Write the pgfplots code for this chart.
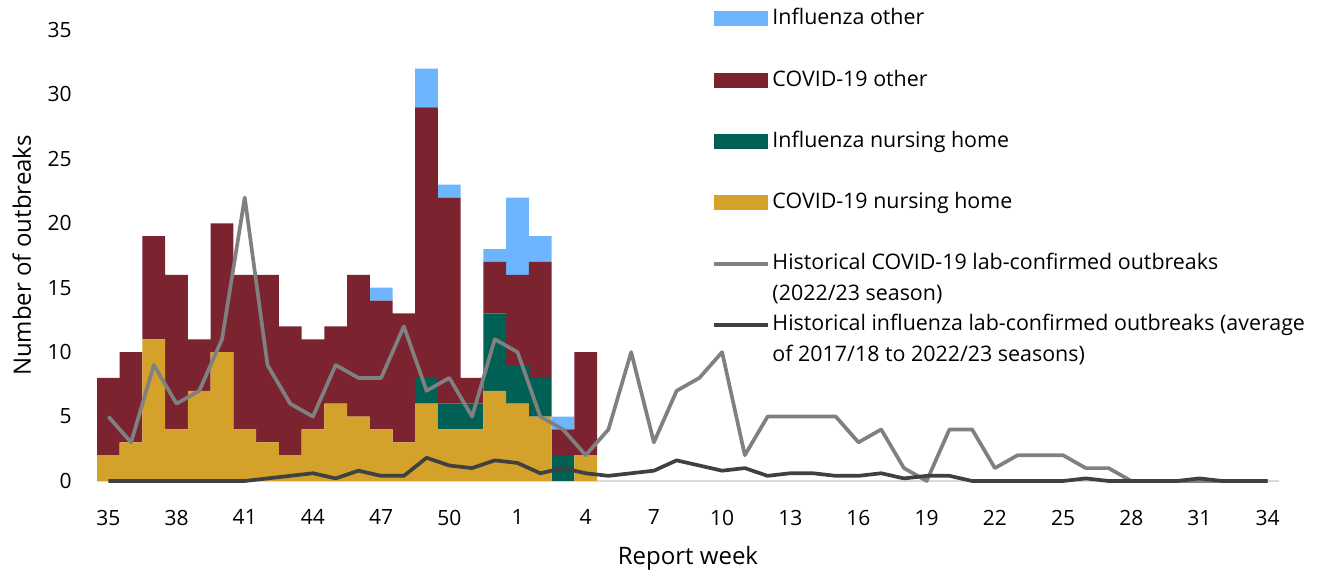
\documentclass[border=0pt]{standalone}
\usepackage{fontspec}
\setmainfont{Open Sans}
\usepackage{pgfplots}
\pgfplotsset{compat=1.18}
\usepackage{pgfplotstable}

\definecolor{cblue}{RGB}{110,181,255}
\definecolor{cmaroon}{RGB}{123,36,48}
\definecolor{cgreen}{RGB}{0,96,84}
\definecolor{cgold}{RGB}{212,162,42}
\definecolor{lgray}{RGB}{128,128,128}
\definecolor{dgray}{RGB}{64,64,64}
\definecolor{axgray}{RGB}{217,217,217}

\pgfplotstableread{
x cnh fnh cot fot
0 2 0 6 0
1 3 0 7 0
2 11 0 8 0
3 4 0 12 0
4 7 0 4 0
5 10 0 10 0
6 4 0 12 0
7 3 0 13 0
8 2 0 10 0
9 4 0 7 0
10 6 0 6 0
11 5 0 11 0
12 4 0 10 1
13 3 0 10 0
14 6 2 21 3
15 4 2 16 1
16 4 2 2 0
17 7 6 4 1
18 6 3 7 6
19 5 3 9 2
20 0 2 2 1
21 2 0 8 0
}\bars

\pgfplotstableread{
x cov flu
0 5 0
1 3 0
2 9 0
3 6 0
4 7 0
5 11 0
6 22 0
7 9 0.2
8 6 0.4
9 5 0.6
10 9 0.2
11 8 0.8
12 8 0.4
13 12 0.4
14 7 1.8
15 8 1.2
16 5 1.0
17 11 1.6
18 10 1.4
19 5 0.6
20 4 1.0
21 2 0.6
22 4 0.4
23 10 0.6
24 3 0.8
25 7 1.6
26 8 1.2
27 10 0.8
28 2 1.0
29 5 0.4
30 5 0.6
31 5 0.6
32 5 0.4
33 3 0.4
34 4 0.6
35 1 0.2
36 0 0.4
37 4 0.4
38 4 0
39 1 0
40 2 0
41 2 0
42 2 0
43 1 0.2
44 1 0
45 0 0
46 0 0
47 0 0
48 0 0.2
49 0 0
50 0 0
51 0 0
}\lines

\pgfplotsset{
  common/.style={
    at={(48.5pt,45pt)}, anchor=south west,
    scale only axis, width=591pt, height=225.5pt,
    xmin=-0.5, xmax=51.5, ymin=0, ymax=35,
  },
  lineleg/.style={legend image code/.code={\draw[##1] (0pt,0pt) -- (27pt,0pt);}},
  barleg/.style={legend image code/.code={\fill[#1] (0pt,-3.5pt) rectangle (26.5pt,3.5pt);}},
}

\begin{document}
\fontsize{10.5pt}{15pt}\selectfont
\begin{tikzpicture}[font=\fontsize{10.5pt}{15pt}\selectfont]
\path[use as bounding box] (0,0) rectangle (660.5pt,285.5pt);

\begin{axis}[
  common,
  ybar stacked, bar width=1,
  axis x line*=bottom, axis y line*=left,
  x axis line style={draw=axgray, line width=1.2pt},
  y axis line style={draw=none},
  major tick length=0pt,
  tick style={draw=none},
  xtick={0,3,...,51},
  xticklabels={35,38,41,44,47,50,1,4,7,10,13,16,19,22,25,28,31,34},
  ytick={0,5,...,35},
  /pgf/number format/assume math mode=true,
  xticklabel style={anchor=north, inner sep=0pt, yshift=-14.25pt},
  yticklabel style={anchor=east, inner sep=0pt, xshift=-12.5pt},
  xlabel={Report week},
  ylabel={Number of outbreaks},
  xlabel style={at={(axis description cs:0.5,-0.1718)}, anchor=center, font=\fontsize{12pt}{14pt}\selectfont},
  ylabel style={at={(axis description cs:-0.0635,0.5)}, anchor=center, font=\fontsize{12pt}{14pt}\selectfont},
]
\addplot[fill=cgold, draw=none] table[x=x, y=cnh] {\bars};
\addplot[fill=cgreen, draw=none] table[x=x, y=fnh] {\bars};
\addplot[fill=cmaroon, draw=none] table[x=x, y=cot] {\bars};
\addplot[fill=cblue, draw=none] table[x=x, y=fot] {\bars};
\end{axis}

\begin{axis}[
  common,
  hide axis, clip=false,
  legend style={at={(axis description cs:0.5203,1.0499)}, anchor=north west,
    draw=none, fill=none, inner sep=0pt, row sep=4.3pt, column sep=1.2pt,
    font=\fontsize{10.7pt}{15pt}\selectfont,
    nodes={inner sep=0pt, text height=8.5pt, text depth=2.5pt}},
  legend cell align=left,
]
\addlegendimage{barleg=cblue}
\addlegendentry{Influenza other}
\addlegendimage{empty legend}\addlegendentry{}
\addlegendimage{barleg=cmaroon}
\addlegendentry{COVID-19 other}
\addlegendimage{empty legend}\addlegendentry{}
\addlegendimage{barleg=cgreen}
\addlegendentry{Influenza nursing home}
\addlegendimage{empty legend}\addlegendentry{}
\addlegendimage{barleg=cgold}
\addlegendentry{COVID-19 nursing home}
\addlegendimage{empty legend}\addlegendentry{}
\addplot[lgray, line width=1.85pt, line join=round, lineleg] table[x=x, y=cov] {\lines};
\addlegendentry{Historical COVID-19 lab-confirmed outbreaks}
\addlegendimage{empty legend}\addlegendentry{(2022/23 season)}
\addplot[dgray, line width=1.85pt, line join=round, lineleg] table[x=x, y=flu] {\lines};
\addlegendentry{Historical influenza lab-confirmed outbreaks (average}
\addlegendimage{empty legend}\addlegendentry{of 2017/18 to 2022/23 seasons)}
\end{axis}
\end{tikzpicture}
\end{document}
